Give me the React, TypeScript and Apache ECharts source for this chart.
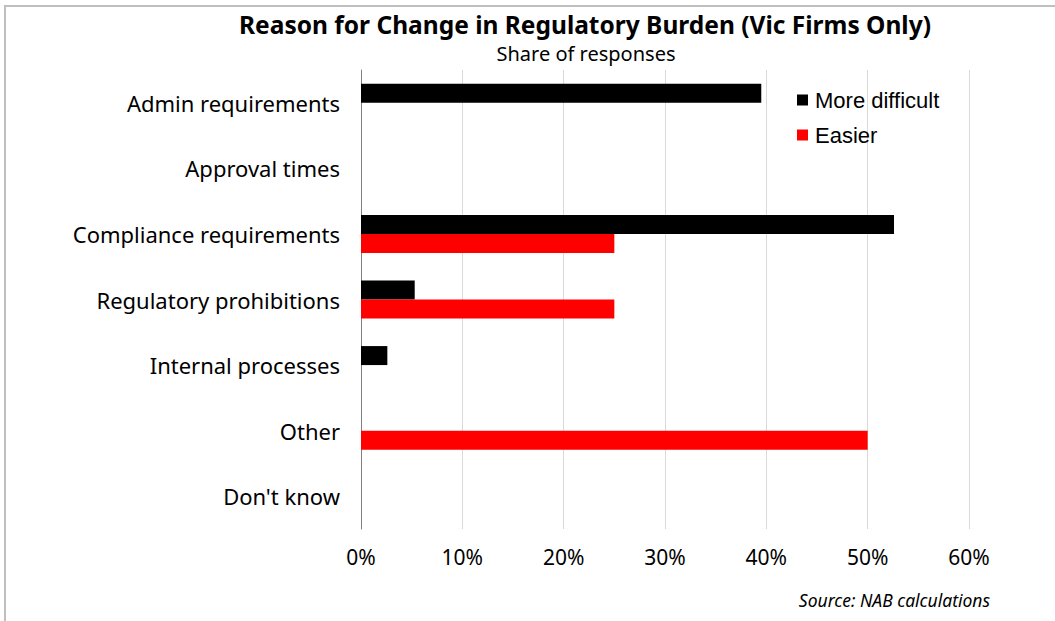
import React, { useEffect, useRef } from "react";
import * as echarts from "echarts";

const categories = [
  "Admin requirements",
  "Approval times",
  "Compliance requirements",
  "Regulatory prohibitions",
  "Internal processes",
  "Other",
  "Don't know",
];
const moreDifficult = [39.5, 0, 52.6, 5.3, 2.6, 0, 0];
const easier = [0, 0, 25, 25, 0, 50, 0];
const seriesNames = ["More difficult", "Easier"];
const xTicks = { min: 0, max: 60, interval: 10 };
const titleText = "Reason for Change in Regulatory Burden (Vic Firms Only)";
const subtitleText = "Share of responses";
const sourceText = "Source: NAB calculations";

const LABEL_FONT = "'Noto Sans', 'Open Sans', sans-serif";

export default function App() {
  const ref = useRef<HTMLDivElement>(null);
  useEffect(() => {
    if (!ref.current) return;
    const chart = echarts.init(ref.current, null, { renderer: "svg" });
    chart.setOption({
      animation: false,
      backgroundColor: "#ffffff",
      grid: { left: 361, right: 86, top: 70, bottom: 92, containLabel: false },
      legend: {
        orient: "vertical",
        left: 797,
        top: 89,
        padding: 0,
        itemWidth: 11,
        itemHeight: 11,
        itemGap: 13,
        icon: "rect",
        textStyle: {
          fontFamily: "'Liberation Sans', Arial, sans-serif",
          fontSize: 22,
          color: "#000",
          padding: [0, 0, 0, 2],
        },
        data: seriesNames,
      },
      xAxis: {
        type: "value",
        min: xTicks.min,
        max: xTicks.max,
        interval: xTicks.interval,
        axisLine: { show: false },
        axisTick: { show: false },
        splitLine: { lineStyle: { color: "#d9d9d9", width: 1 } },
        axisLabel: {
          formatter: "{value}%",
          fontFamily: LABEL_FONT,
          fontSize: 21,
          color: "#000",
          margin: 17,
        },
      },
      yAxis: {
        type: "category",
        inverse: true,
        data: categories,
        axisLine: { show: true, lineStyle: { color: "#808080", width: 1 } },
        axisTick: { show: false },
        axisLabel: { fontFamily: LABEL_FONT, fontSize: 22, color: "#000", margin: 21 },
      },
      series: [
        {
          name: seriesNames[0],
          type: "bar",
          data: moreDifficult,
          barWidth: 19,
          barGap: "0%",
          itemStyle: { color: "#000000" },
        },
        {
          name: seriesNames[1],
          type: "bar",
          data: easier,
          barWidth: 19,
          barGap: "0%",
          itemStyle: { color: "#ff0000" },
        },
      ],
      graphic: [
        {
          type: "line",
          shape: { x1: 5, y1: 5, x2: 5, y2: 621 },
          style: { stroke: "#bfbfbf", lineWidth: 2 },
        },
        {
          type: "line",
          shape: { x1: 4, y1: 6, x2: 1055, y2: 6 },
          style: { stroke: "#bfbfbf", lineWidth: 2 },
        },
        {
          type: "text",
          x: 585,
          y: 24,
          style: {
            text: titleText,
            fontFamily: LABEL_FONT,
            fontSize: 24.5,
            lineHeight: 26,
            fontWeight: "bold",
            fill: "#000",
            textAlign: "center",
            textVerticalAlign: "middle",
          },
        },
        {
          type: "text",
          x: 586,
          y: 53,
          style: {
            text: subtitleText,
            fontFamily: LABEL_FONT,
            fontSize: 20,
            lineHeight: 20,
            fill: "#000",
            textAlign: "center",
            textVerticalAlign: "middle",
          },
        },
        {
          type: "text",
          x: 990,
          y: 600,
          style: {
            text: sourceText,
            fontFamily: LABEL_FONT,
            fontSize: 17.5,
            fontStyle: "italic",
            fill: "#000",
            textAlign: "right",
            textVerticalAlign: "middle",
          },
        },
      ],
    });
    return () => chart.dispose();
  }, []);
  return (
    <div
      ref={ref}
      style={{ position: "absolute", left: 0, top: 0, width: 1055, height: 621 }}
    />
  );
}
